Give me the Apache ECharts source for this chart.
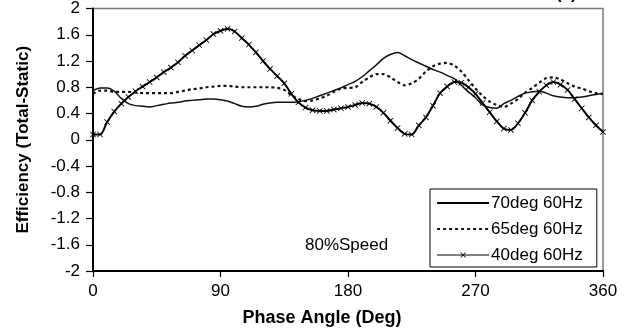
<!DOCTYPE html>
<html>
<head>
<meta charset="utf-8">
<script src="https://cdn.jsdelivr.net/npm/echarts@6/dist/echarts.min.js"></script>
<style>
  html, body { margin: 0; padding: 0; background: #fff; }
  #chart { width: 626px; height: 332px; }
</style>
</head>
<body>
<div id="chart"></div>
<script>
// Phase angle (deg), sampled every 5 degrees
const angles = [];
for (let a = 0; a <= 360; a += 5) angles.push(a);

// Total-static efficiency for each configuration
const eff70 = [0.75,0.79,0.79,0.74,0.63,0.55,0.52,0.51,0.50,0.52,0.54,0.56,0.57,0.59,0.60,0.61,0.62,0.62,0.61,0.59,
  0.55,0.51,0.50,0.51,0.54,0.56,0.57,0.57,0.57,0.58,0.60,0.63,0.67,0.71,0.75,0.79,0.84,0.89,0.96,1.05,
  1.14,1.24,1.30,1.33,1.28,1.22,1.17,1.12,1.07,1.03,0.98,0.93,0.83,0.73,0.64,0.53,0.49,0.48,0.55,0.60,
  0.66,0.71,0.73,0.74,0.71,0.67,0.65,0.64,0.64,0.65,0.67,0.69,0.70];
const eff65 = [0.70,0.75,0.75,0.73,0.73,0.73,0.72,0.71,0.71,0.71,0.71,0.71,0.73,0.75,0.77,0.78,0.80,0.81,0.82,0.82,
  0.81,0.80,0.80,0.80,0.80,0.80,0.79,0.76,0.68,0.62,0.59,0.60,0.63,0.67,0.73,0.78,0.79,0.80,0.88,0.95,
  1.00,1.00,0.95,0.88,0.83,0.86,0.93,1.04,1.12,1.16,1.17,1.13,1.04,0.91,0.78,0.67,0.58,0.53,0.50,0.55,
  0.62,0.72,0.79,0.87,0.94,0.95,0.92,0.86,0.81,0.78,0.74,0.71,0.70];
const eff40 = [0.08,0.08,0.27,0.43,0.55,0.65,0.74,0.81,0.88,0.95,1.03,1.10,1.18,1.28,1.36,1.44,1.52,1.61,1.66,1.69,
  1.65,1.55,1.45,1.33,1.20,1.08,0.97,0.86,0.70,0.57,0.49,0.45,0.44,0.44,0.46,0.48,0.50,0.53,0.56,0.55,
  0.50,0.41,0.29,0.18,0.09,0.08,0.22,0.34,0.52,0.71,0.81,0.88,0.87,0.80,0.70,0.56,0.42,0.28,0.17,0.15,
  0.25,0.41,0.60,0.73,0.83,0.88,0.84,0.76,0.62,0.48,0.34,0.22,0.12];

const seriesNames = ['70deg 60Hz', '65deg 60Hz', '40deg 60Hz'];
const xTicks = [0, 90, 180, 270, 360];
const yTicks = [-2, -1.6, -1.2, -0.8, -0.4, 0, 0.4, 0.8, 1.2, 1.6, 2];

const font = '"Liberation Sans", Arial, sans-serif';
const pairs = ys => angles.map((a, i) => [a, ys[i]]);
const crossMark = 'path://M1,0L5,4L9,0L10,1L6,5L10,9L9,10L5,6L1,10L0,9L4,5L0,1Z';

const chart = echarts.init(document.getElementById('chart'), null, { renderer: 'canvas' });
chart.setOption({
  animation: false,
  backgroundColor: '#fff',
  grid: {
    left: 93, right: 23, top: 8, bottom: 61,
    show: true, borderColor: '#7a7a7a', borderWidth: 1.5, backgroundColor: 'transparent'
  },
  xAxis: {
    type: 'value', min: 0, max: 360, interval: 90,
    name: 'Phase Angle (Deg)', nameLocation: 'middle', nameGap: 38,
    nameTextStyle: { fontFamily: font, fontSize: 18, fontWeight: 'bold', color: '#000',
      padding: [0, 52, 0, 0] },
    axisLine: { show: true, onZero: false, lineStyle: { color: '#000', width: 2 } },
    axisTick: { show: true, length: 6, lineStyle: { color: '#000', width: 1.2 } },
    axisLabel: { margin: 12, fontFamily: font, fontSize: 17, color: '#000',
      formatter: v => xTicks.includes(v) ? String(v) : '' },
    splitLine: { show: false }
  },
  yAxis: {
    type: 'value', min: -2, max: 2, interval: 0.4,
    name: 'Efficiency (Total-Static)', nameLocation: 'middle', nameGap: 61,
    nameTextStyle: { fontFamily: font, fontSize: 17, fontWeight: 'bold', color: '#000' },
    axisLine: { show: true, onZero: false, lineStyle: { color: '#000', width: 2 } },
    axisTick: { show: true, length: 7, lineStyle: { color: '#000', width: 1.2 } },
    axisLabel: { margin: 13, fontFamily: font, fontSize: 17, color: '#000',
      formatter: v => {
        const t = yTicks.find(k => Math.abs(k - v) < 1e-6);
        return t === undefined ? '' : String(t);
      } },
    splitLine: { show: false }
  },
  legend: {
    orient: 'vertical', left: 430, top: 189,
    padding: [5, 14, 3, 6],
    itemWidth: 52, itemHeight: 7, itemGap: 8,
    backgroundColor: '#fff', borderColor: '#000', borderWidth: 1,
    textStyle: { fontFamily: font, fontSize: 17, lineHeight: 18, color: '#000', padding: [0, 0, 0, -3] },
    data: [
      { name: seriesNames[0], lineStyle: { color: '#000', width: 2.2 } },
      { name: seriesNames[1] },
      { name: seriesNames[2], lineStyle: { color: '#000', width: 1 } }
    ]
  },
  graphic: [
    { type: 'text', left: 305, top: 237,
      style: { text: '80%Speed', font: '17px ' + font, fill: '#000' } },
    { type: 'text', left: 556, top: -14,
      style: { text: '(c)', font: 'bold 17px ' + font, fill: '#000' } }
  ],
  series: [
    {
      name: seriesNames[0], type: 'line', data: pairs(eff70), smooth: 0.3,
      symbol: 'none', lineStyle: { color: '#111', width: 1.5 },
      itemStyle: { color: '#111', opacity: 0 }, z: 3
    },
    {
      name: seriesNames[1], type: 'line', data: pairs(eff65), smooth: 0.3,
      symbol: 'none', lineStyle: { color: '#111', width: 2.2, type: [3, 3] },
      itemStyle: { color: '#111', opacity: 0 }, z: 2
    },
    {
      name: seriesNames[2], type: 'line', data: pairs(eff40), smooth: 0.3,
      symbol: crossMark, symbolSize: 6, showSymbol: true,
      lineStyle: { color: '#000', width: 2 }, itemStyle: { color: '#000' }, z: 4
    }
  ]
});
</script>
</body>
</html>
